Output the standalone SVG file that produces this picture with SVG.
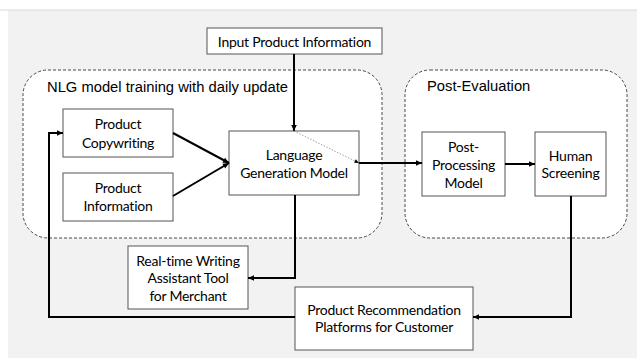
<svg xmlns="http://www.w3.org/2000/svg" width="637" height="358" viewBox="0 0 637 358">
<defs>
<marker id="ah" markerUnits="userSpaceOnUse" markerWidth="8" markerHeight="8" refX="7" refY="4" orient="auto">
<path d="M1,1.2 L7,4 L1,6.8 Z" fill="#000"/>
</marker>
<marker id="ahs" markerUnits="userSpaceOnUse" markerWidth="6" markerHeight="6" refX="5" refY="3" orient="auto">
<path d="M0.5,1 L5,3 L0.5,5 Z" fill="#000"/>
</marker>
</defs>
<style>
.box{fill:#fff;stroke:#555;stroke-width:1}
.grp{fill:#fff;stroke:#333;stroke-width:0.9;stroke-dasharray:3 2}
.t{font-family:Lato,"Liberation Sans",sans-serif;font-size:14px;letter-spacing:-0.25px;fill:#000;text-anchor:middle}
.h{font-family:"Liberation Sans",Arial,sans-serif;font-size:14.75px;fill:#000}
.c{fill:none;stroke:#000;stroke-width:2;marker-end:url(#ah)}
.d{fill:none;stroke:#888;stroke-width:0.8;stroke-dasharray:1.5 1.5;marker-end:url(#ahs)}
</style>
<rect x="0" y="0" width="637" height="358" fill="#fff"/>
<rect x="8" y="10" width="629" height="348" fill="#f2f2f2"/>
<line x1="0" y1="10" x2="637" y2="10" stroke="#d9d9d9" stroke-width="1"/>

<g id="group-nlg">
<rect class="grp" x="23" y="70" width="359" height="168" rx="25" ry="25"/>
<text class="h" x="47" y="92">NLG model training with daily update</text>
</g>
<g id="group-post">
<rect class="grp" x="405" y="70" width="222" height="168" rx="25" ry="25"/>
<text class="h" x="427" y="91">Post-Evaluation</text>
</g>

<g id="input-product-information">
<rect class="box" x="207" y="28" width="175" height="26"/>
<text class="t" x="294.5" y="46.5">Input Product Information</text>
</g>
<g id="product-copywriting">
<rect class="box" x="63" y="109" width="110" height="48"/>
<text class="t" x="118" y="129">Product</text>
<text class="t" x="118" y="148">Copywriting</text>
</g>
<g id="product-information">
<rect class="box" x="63" y="173" width="110" height="48"/>
<text class="t" x="118" y="193">Product</text>
<text class="t" x="118" y="211">Information</text>
</g>
<g id="language-generation-model">
<rect class="box" x="229" y="131" width="130" height="64"/>
<text class="t" x="294" y="160">Language</text>
<text class="t" x="294" y="178">Generation Model</text>
</g>
<g id="post-processing-model">
<rect class="box" x="422" y="132" width="83" height="64"/>
<text class="t" x="463.5" y="152">Post-</text>
<text class="t" x="463.5" y="170">Processing</text>
<text class="t" x="463.5" y="188">Model</text>
</g>
<g id="human-screening">
<rect class="box" x="535" y="132" width="71" height="64"/>
<text class="t" x="570.5" y="161">Human</text>
<text class="t" x="570.5" y="178">Screening</text>
</g>
<g id="writing-assistant-tool">
<rect class="box" x="128" y="246" width="120" height="63"/>
<text class="t" x="188" y="266">Real-time Writing</text>
<text class="t" x="188" y="283">Assistant Tool</text>
<text class="t" x="188" y="301">for Merchant</text>
</g>
<g id="product-recommendation-platforms">
<rect class="box" x="295" y="287" width="178" height="63"/>
<text class="t" x="384" y="315">Product Recommendation</text>
<text class="t" x="384" y="332">Platforms for Customer</text>
</g>

<g id="connectors">
<path class="c" d="M294,54 L294,131"/>
<path class="d" d="M294,131 L359,163"/>
<path class="c" d="M173,133 L229,163"/>
<path class="c" d="M173,196 L229,163"/>
<path class="c" d="M359,163 L422,163"/>
<path class="c" d="M505,164 L535,164"/>
<path class="c" d="M295,195 L295,278 L248,278"/>
<path class="c" d="M571,196 L571,317 L473,317"/>
<path class="c" d="M295,317 L49,317 L49,133 L63,133"/>
</g>
</svg>
